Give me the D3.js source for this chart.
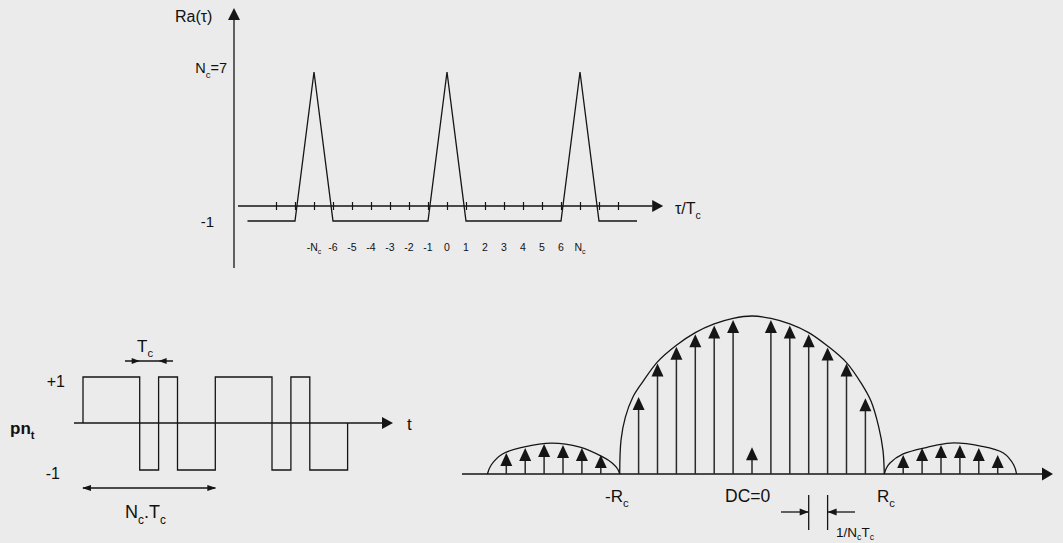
<!DOCTYPE html>
<html>
<head>
<meta charset="utf-8">
<script src="https://cdn.jsdelivr.net/npm/d3@7/dist/d3.min.js"></script>
<style>
  body { margin: 0; background: #ebebeb; }
  text { font-family: "Liberation Sans", Arial, sans-serif; fill: #111; }
</style>
</head>
<body>
<svg id="chart"></svg>
<script>
// autocorrelation Ra(tau), tau in chip units (Tc)
const raTau = [-10.5, -8, -7, -6, -1, 0, 1, 6, 7, 8, 10]
const raVal = [-1, -1, 7, -1, -1, 7, -1, -1, 7, -1, -1]
const raTicks = [-9, -8, -7, -6, -5, -4, -3, -2, -1, 0, 1, 2, 3, 4, 5, 6, 7, 8, 9]
const raLabelAt = [-7, -6, -5, -4, -3, -2, -1, 0, 1, 2, 3, 4, 5, 6, 7]
const raLabels = ["-N{c}", "-6", "-5", "-4", "-3", "-2", "-1", "0", "1", "2", "3", "4", "5", "6", "N{c}"]

// pn sequence, two periods of Nc = 7 chips
const chips = [1, 1, 1, -1, 1, -1, -1, 1, 1, 1, -1, 1, -1, -1]

// spectral lines, k in units of 1/(Nc.Tc), height relative to main lobe top
const specK = [-13, -12, -11, -10, -9, -8, -6, -5, -4, -3, -2, -1, 0, 1, 2, 3, 4, 5, 6, 8, 9, 10, 11, 12, 13]
const specH = [0.133, 0.165, 0.19, 0.183, 0.165, 0.12, 0.487, 0.70, 0.805, 0.885, 0.94, 0.975, 0.17,
               0.975, 0.94, 0.885, 0.80, 0.70, 0.48, 0.12, 0.165, 0.183, 0.183, 0.165, 0.12]

// hand drawn envelopes
const mainEnvK = [-7, -6.93, -6.7, -6.3, -5.8, -5, -4, -3, -2, -1, 0, 1, 2, 3, 4, 5, 5.8, 6.3, 6.7, 6.93, 7]
const mainEnvH = [0, 0.215, 0.36, 0.487, 0.58, 0.71, 0.815, 0.895, 0.95, 0.985, 1,
                  0.985, 0.95, 0.895, 0.81, 0.705, 0.57, 0.46, 0.3, 0.15, 0]
const leftEnvK = [-14, -13.8, -13.2, -12.1, -10.6, -9.1, -7.9, -7.4, -7.1, -7]
const leftEnvH = [0, 0.057, 0.127, 0.17, 0.196, 0.17, 0.108, 0.07, 0.03, 0]
const rightEnvK = [7, 7.1, 7.3, 8, 9.3, 10.5, 12.1, 13.3, 13.85, 14]
const rightEnvH = [0, 0.035, 0.07, 0.127, 0.17, 0.196, 0.177, 0.133, 0.057, 0]

const W = 1063, H = 543
const INK = "#151515"

const svg = d3.select("#chart").attr("width", W).attr("height", H)
svg.append("rect").attr("width", W).attr("height", H).attr("fill", "#ebebeb")

// text with {sub} subscripts
const richText = (g, str, x, y, fs, anchor, weight, shift) => {
  const sh = fs * (shift || 0.32)
  const t = g.append("text").attr("x", x).attr("y", y).attr("font-size", fs)
    .attr("text-anchor", anchor || "start").attr("font-weight", weight || "normal")
  const parts = str.split(/(\{[^}]*\})/).filter(s => s.length)
  let down = false
  parts.forEach(p => {
    if (p[0] == "{") {
      t.append("tspan").attr("font-size", fs * 0.66).attr("dy", sh).text(p.slice(1, -1))
      down = true
    } else {
      const s = t.append("tspan").text(p)
      if (down) { s.attr("dy", -sh); down = false }
    }
  })
  return t
}

// filled arrow head, tip at (x, y)
const arrowHead = (g, x, y, dir, len, half) => {
  let pts
  if (dir == "up") pts = [[x, y], [x - half, y + len], [x + half, y + len]]
  if (dir == "right") pts = [[x, y], [x - len, y - half], [x - len, y + half]]
  if (dir == "left") pts = [[x, y], [x + len, y - half], [x + len, y + half]]
  g.append("path").attr("d", "M" + pts.join("L") + "Z").attr("fill", INK)
}

const hline = (g, x1, x2, y) => g.append("line").attr("x1", x1).attr("x2", x2).attr("y1", y).attr("y2", y)
  .attr("stroke", INK).attr("stroke-width", 1.3)
const vline = (g, x, y1, y2) => g.append("line").attr("x1", x).attr("x2", x).attr("y1", y1).attr("y2", y2)
  .attr("stroke", INK).attr("stroke-width", 1.3)

// ---------- top: autocorrelation ----------
const raG = svg.append("g")
const xRa = d3.scaleLinear().domain([-7, 7]).range([314, 580])
const yRa = d3.scaleLinear().domain([-1, 0, 7]).range([221, 206, 72])

vline(raG, 234, 268, 19)
arrowHead(raG, 234, 8, "up", 12, 6)
hline(raG, xRa(-11), xRa(10.8), yRa(0))
arrowHead(raG, xRa(10.8) + 11, yRa(0), "right", 11, 6)

raG.append("g")
    .attr("transform", `translate(0,${yRa(0) - 4})`)
    .call(d3.axisBottom(xRa).tickValues(raTicks).tickSize(8).tickSizeOuter(0).tickFormat(""))
    .call(g => g.select(".domain").remove())
    .call(g => g.selectAll("line").attr("stroke", INK).attr("stroke-width", 1.2))

raG.append("path")
    .datum(raTau.map((t, i) => [t, raVal[i]]))
    .attr("fill", "none")
    .attr("stroke", INK)
    .attr("stroke-width", 1.3)
    .attr("d", d3.line().x(d => xRa(d[0])).y(d => yRa(d[1])))

raLabelAt.forEach((t, i) => richText(raG, raLabels[i], xRa(t), 251, 10.5, "middle"))

richText(raG, "Ra(τ)", 175, 22, 16)
richText(raG, "N{c}=7", 227, 73, 14.5, "end")
richText(raG, "-1", 214, 227, 15, "end")
richText(raG, "τ/T{c}", 675, 214, 16)

// ---------- bottom left: pn sequence ----------
const pnG = svg.append("g")
const xPn = d3.scaleLinear().domain([0, chips.length]).range([83, 347.6])
const yPn = d3.scaleLinear().domain([-1, 0, 1]).range([470, 423, 377])

hline(pnG, 74, 383, yPn(0))
arrowHead(pnG, 393, yPn(0), "right", 11, 6)

const pnPts = [[0, 0]].concat(chips.map((c, i) => [i, c]))
    .concat([[chips.length, chips[chips.length - 1]], [chips.length, 0]])
pnG.append("path")
    .datum(pnPts)
    .attr("fill", "none")
    .attr("stroke", INK)
    .attr("stroke-width", 1.3)
    .attr("d", d3.line().curve(d3.curveStepAfter).x(d => xPn(d[0])).y(d => yPn(d[1])))

richText(pnG, "+1", 65, 387, 16, "end")
richText(pnG, "-1", 60, 479, 16, "end")
richText(pnG, "pn{t}", 10, 434, 17, "start", "bold")
richText(pnG, "t", 407, 430, 17)

// Tc marker
hline(pnG, 125, 173, 361)
arrowHead(pnG, xPn(3), 361, "right", 8, 3)
arrowHead(pnG, xPn(4), 361, "left", 8, 3)
richText(pnG, "T{c}", 137, 352, 17)

// Nc.Tc marker
hline(pnG, xPn(0), xPn(7), 488)
arrowHead(pnG, xPn(0) - 1, 488, "left", 9, 3)
arrowHead(pnG, xPn(7) + 1, 488, "right", 9, 3)
richText(pnG, "N{c}.T{c}", 125, 518, 18)

// ---------- bottom right: spectrum ----------
const spG = svg.append("g")
const xSp = d3.scaleLinear().domain([-14, 14]).range([487.4, 1016.6])
const ySp = d3.scaleLinear().domain([0, 1]).range([474, 316])

hline(spG, 462, 1043, ySp(0))
arrowHead(spG, 1053, ySp(0), "right", 11, 6.5)

const env = d3.line().curve(d3.curveCatmullRom.alpha(0.5)).x(d => xSp(d[0])).y(d => ySp(d[1]))
;[[mainEnvK, mainEnvH], [leftEnvK, leftEnvH], [rightEnvK, rightEnvH]].forEach(([ks, hs]) => {
  spG.append("path")
      .datum(ks.map((k, i) => [k, hs[i]]))
      .attr("fill", "none")
      .attr("stroke", INK)
      .attr("stroke-width", 1.3)
      .attr("d", env)
})

specK.forEach((k, i) => {
  const x = xSp(k), yTip = ySp(specH[i])
  spG.append("line")
      .attr("x1", x).attr("x2", x)
      .attr("y1", ySp(0)).attr("y2", yTip + 10)
      .attr("stroke", "#2a2a2a")
      .attr("stroke-width", 1.5)
  arrowHead(spG, x, yTip, "up", 13, 6)
})

richText(spG, "-R{c}", 605, 502, 17)
richText(spG, "DC=0", 725, 502, 17.5)
richText(spG, "R{c}", 877, 502, 17)

// 1/Nc.Tc marker
vline(spG, xSp(3), 495, 530)
vline(spG, xSp(4), 495, 530)
hline(spG, 781, xSp(3), 512)
hline(spG, xSp(4), 855, 512)
arrowHead(spG, xSp(3), 512, "right", 9, 3.5)
arrowHead(spG, xSp(4), 512, "left", 9, 3.5)
richText(spG, "1/N{c}T{c}", 836, 537, 13.5, "start", "normal", 0.22)
</script>
</body>
</html>
